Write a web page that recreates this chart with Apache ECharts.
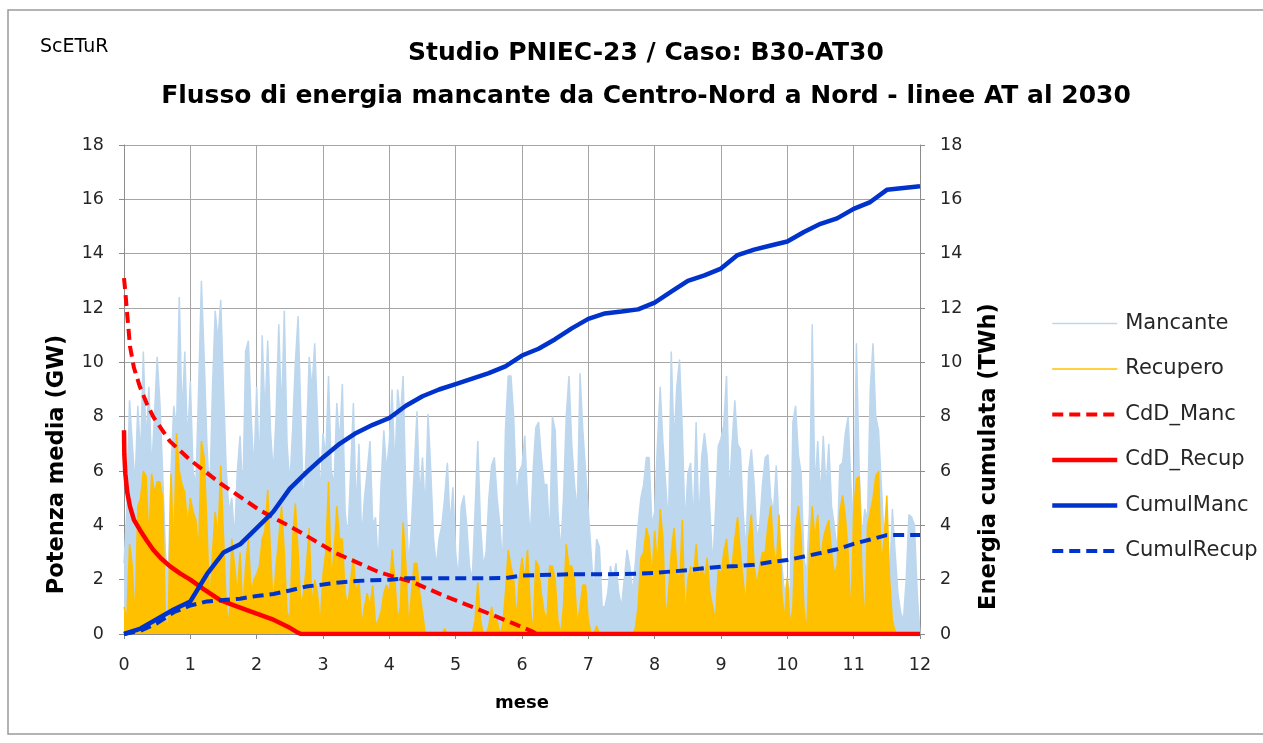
<!DOCTYPE html>
<html>
<head>
<meta charset="utf-8">
<script src="https://cdn.jsdelivr.net/npm/echarts@6/dist/echarts.min.js"></script>
<style>
  html, body { margin: 0; padding: 0; background: #ffffff; }
  #chart { width: 1263px; height: 743px; }
</style>
</head>
<body>
<div id="chart"></div>
<script>
// Monthly axis: 0..12 months, sampled values every 1/24 of a month
const stepsPerMonth = 24;

// Mean power of the missing flow (GW)
const mancante = [
  2.6,4.5,8.6,7.0,5.5,8.4,6.5,10.4,7.0,9.1,6.0,8.0,10.2,8.5,5.9,3.0,2.0,6.0,8.4,7.5,12.4,8.0,10.4,7.0,9.3,6.0,5.5,9.0,13.0,10.2,7.0,5.0,9.0,11.9,10.8,12.3,9.0,6.0,4.5,5.0,3.5,6.0,7.3,5.0,10.4,10.8,8.0,6.0,
  9.1,6.0,11.0,8.0,10.8,7.5,5.9,8.0,11.4,8.0,11.9,7.0,5.5,7.5,10.0,11.7,8.0,4.5,7.0,10.2,9.0,10.7,8.0,5.0,7.4,6.5,9.5,6.0,5.5,8.5,7.0,9.2,4.5,3.5,6.0,8.5,4.5,7.0,3.5,5.0,6.0,7.1,4.0,4.3,2.5,5.5,7.5,6.0,
  7.1,9.0,6.0,9.0,8.0,9.5,5.0,2.5,4.0,6.0,8.2,5.0,6.5,4.5,8.1,6.0,3.5,2.5,3.5,4.0,5.0,6.3,4.0,5.4,3.0,2.0,4.7,5.1,4.0,2.5,2.0,4.5,7.1,4.0,2.5,3.0,5.0,6.2,6.5,5.0,4.0,2.5,7.5,9.5,9.5,8.0,5.0,6.0,
  6.2,7.3,5.0,3.5,6.0,7.6,7.8,6.5,5.5,5.5,3.5,8.0,7.5,4.5,3.0,5.0,8.0,9.5,7.0,5.5,4.5,9.6,7.5,6.0,4.5,3.0,1.5,3.5,3.2,1.0,1.0,1.5,2.5,2.0,2.6,1.5,1.0,2.0,3.1,2.5,1.5,2.6,4.0,5.0,5.5,6.5,6.5,4.0,
  4.5,7.0,9.1,7.0,5.5,4.0,10.4,7.0,9.1,10.1,7.5,4.0,5.9,6.3,4.0,7.8,4.0,6.5,7.4,6.5,4.5,2.5,4.5,6.9,7.2,7.7,9.5,5.0,7.0,8.6,7.0,6.8,4.5,3.0,6.0,6.8,5.5,3.5,4.0,5.5,6.5,6.6,5.0,4.5,6.2,4.0,2.5,1.5,
  2.0,1.3,7.8,8.4,6.6,5.9,2.8,2.2,4.5,11.4,5.3,7.1,5.0,7.3,5.3,7.0,4.7,4.0,3.0,6.2,6.3,7.4,8.0,5.5,4.0,10.7,6.0,3.5,4.6,4.2,9.0,10.7,8.0,7.5,5.5,3.5,2.5,2.0,4.6,3.0,1.5,0.8,0.5,2.0,4.4,4.3,4.0,1.5,0
];

// Mean power of the recovered flow (GW)
const recupero = [
  1.0,0.5,3.3,2.5,0.5,4.7,5.0,6.0,5.8,3.5,5.9,5.2,5.6,5.6,5.0,0.5,0.3,5.9,3.0,7.4,6.0,5.5,5.2,4.0,5.0,4.5,4.2,3.0,7.1,6.5,4.0,1.0,3.0,4.5,3.5,6.2,3.6,1.0,0.3,3.5,2.5,1.5,3.0,0.8,2.5,3.5,1.5,2.0,
  2.2,2.5,3.5,3.8,5.3,3.0,1.0,2.5,3.5,4.7,3.0,0.8,0.5,3.5,4.8,3.0,1.0,1.5,2.5,3.9,1.0,2.0,1.5,0.3,2.2,3.0,5.6,2.0,3.0,4.7,3.5,3.5,1.5,1.0,2.0,2.8,1.5,2.0,0.3,1.0,1.5,1.0,1.8,0.3,0.5,0.8,1.5,1.8,
  1.5,3.1,2.0,0.5,1.0,4.1,2.5,0.2,1.5,2.6,2.6,1.5,0.8,0,0,0,0,0,0,0,0.2,0,0,0,0,0,0,0,0,0,0,0.5,1.9,0.5,0,0,0.3,1.0,0.5,0.5,0,0.3,1.5,3.1,2.5,2.0,0.5,2.0,
  2.8,2.0,3.1,1.0,0,2.7,2.5,1.5,0.8,0.5,2.5,2.5,2.0,0.5,0,1.0,3.3,2.5,2.5,2.0,0.3,1.0,1.8,1.8,0.5,0,0,0.3,0,0,0,0,0,0,0,0,0,0,0,0,0,0.2,1.0,2.8,3.0,3.9,3.5,2.0,
  3.8,2.5,4.6,3.5,0.5,1.5,3.0,3.9,2.5,1.8,4.2,0.5,2.0,2.5,2.0,3.3,2.0,2.5,2.0,2.8,1.5,1.0,0.5,2.4,2.2,3.0,3.5,2.2,2.5,3.5,4.3,3.0,2.0,1.0,3.5,4.4,2.5,1.8,2.5,3.0,3.0,4.0,4.7,3.2,2.5,4.4,1.5,0.5,
  2.1,0.3,1.0,3.9,4.7,3.5,1.0,0,3.0,4.7,3.5,4.4,2.5,3.5,3.9,4.2,3.0,2.2,2.5,4.5,5.1,4.3,3.0,0.5,4.5,5.7,5.8,2.2,0.3,4.0,4.5,5.0,5.8,6.0,2.5,3.5,5.1,2.0,0.5,0.1,0,0,0,0,0,0,0,0,0
];

// Cumulated energy (TWh), every quarter of a month
const cumulStep = 0.25;
const cumulManc = [
  0,0.2,0.55,0.9,1.2,2.2,3.0,3.3,3.9,4.5,5.35,5.95,6.5,7.0,7.4,7.7,7.95,8.4,8.75,9.0,9.2,9.4,9.6,9.85,10.25,
  10.5,10.85,11.25,11.6,11.8,11.87,11.95,12.2,12.6,13.0,13.2,13.45,13.95,14.15,14.3,14.45,14.8,15.1,15.3,15.65,15.9,16.35,16.42,16.48
];
const cumulRecup = [
  0,0.12,0.4,0.8,1.05,1.2,1.25,1.3,1.4,1.47,1.6,1.75,1.82,1.9,1.95,1.98,2.0,2.05,2.05,2.05,2.05,2.05,2.05,2.06,2.15,
  2.17,2.18,2.2,2.2,2.2,2.21,2.22,2.25,2.3,2.35,2.42,2.48,2.5,2.55,2.65,2.72,2.85,2.98,3.12,3.32,3.48,3.64,3.64,3.64
];

// Duration curves (GW) over the month axis
const cddMancX = [0,0.02,0.04,0.09,0.15,0.24,0.34,0.44,0.69,1.0,1.45,2.05,2.6,3.2,3.85,4.36,4.86,5.37,5.87,6.17,6.22,12];
const cddMancY = [13.1,12.6,12.0,10.6,9.8,9.1,8.5,8.0,7.1,6.4,5.55,4.55,3.83,2.97,2.27,1.9,1.37,0.88,0.39,0.08,0,0];
const cddRecupX = [0,0.005,0.02,0.05,0.09,0.15,0.24,0.34,0.44,0.56,0.69,0.85,1.0,1.2,1.45,1.7,2.0,2.23,2.47,2.62,2.67,12];
const cddRecupY = [7.5,6.6,5.9,5.2,4.7,4.2,3.83,3.45,3.1,2.78,2.5,2.22,2.0,1.65,1.25,1.02,0.75,0.55,0.27,0.05,0,0];

const FONT = 'DejaVu Sans';
const LIGHT_BLUE = '#bdd7ee';
const ORANGE = '#ffc000';
const RED = '#ff0000';
const BLUE = '#0033cc';
const GRID_GRAY = '#a6a6a6';
const AXIS_GRAY = '#8c8c8c';

const onSteps = (ys, step) => ys.map((v, i) => [i * step, v]);
const zipXY = (xs, ys) => ys.map((v, i) => [xs[i], v]);

const chart = echarts.init(document.getElementById('chart'), null, { renderer: 'canvas' });

const valueAxisBase = {
  type: 'value', min: 0, max: 18, interval: 2,
  axisLine: { show: true, lineStyle: { color: AXIS_GRAY, width: 1 } },
  axisTick: { show: true, length: 5, lineStyle: { color: AXIS_GRAY } },
  axisLabel: { fontFamily: FONT, fontSize: 17.5, color: '#262626', margin: 20 },
  nameLocation: 'middle', nameRotate: 90
};

chart.setOption({
  animation: false,
  backgroundColor: '#ffffff',
  title: [
    {
      text: 'Studio PNIEC-23 / Caso: B30-AT30\nFlusso di energia mancante da Centro-Nord a Nord - linee AT al 2030',
      left: 641, top: 27, textAlign: 'center',
      textStyle: { fontFamily: FONT, fontSize: 25, fontWeight: 'bold', color: '#000', lineHeight: 43 }
    },
    {
      text: 'ScETuR', left: 35, top: 33,
      textStyle: { fontFamily: FONT, fontSize: 19, fontWeight: 'normal', color: '#000' }
    }
  ],
  graphic: [{
    type: 'rect', silent: true, z: -10,
    shape: { x: 8, y: 10, width: 1275, height: 724 },
    style: { fill: 'none', stroke: '#9a9a9a', lineWidth: 1.5 }
  }],
  grid: { left: 124, right: 343, top: 145, bottom: 109, containLabel: false, outerBoundsMode: 'none' },
  legend: {
    orient: 'vertical', left: 1050, top: 313, padding: 0,
    itemWidth: 65, itemHeight: 14, itemGap: 24.5,
    itemStyle: { opacity: 0 },
    lineStyle: { width: 'inherit', type: 'inherit', color: 'inherit' },
    textStyle: { fontFamily: FONT, fontSize: 21, color: '#262626', padding: [0, 0, 0, 3] },
    data: ['Mancante', 'Recupero', 'CdD_Manc', 'CdD_Recup', 'CumulManc', 'CumulRecup']
  },
  xAxis: {
    type: 'value', min: 0, max: 12, interval: 1,
    axisLine: { show: true, onZero: false, lineStyle: { color: AXIS_GRAY, width: 1 } },
    axisTick: { show: true, length: 5, lineStyle: { color: AXIS_GRAY } },
    axisLabel: { fontFamily: FONT, fontSize: 17.5, color: '#262626', margin: 22 },
    splitLine: { show: true, lineStyle: { color: GRID_GRAY, width: 1 } },
    name: 'mese', nameLocation: 'middle', nameGap: 60,
    nameTextStyle: { fontFamily: FONT, fontSize: 18, fontWeight: 'bold', color: '#000' }
  },
  yAxis: [
    Object.assign({}, valueAxisBase, {
      position: 'left', name: 'Potenza media (GW)', nameGap: 55,
      nameTextStyle: { fontFamily: FONT, fontSize: 22.5, fontWeight: 'bold', color: '#000', padding: [0, 150, 0, 0] },
      splitLine: { show: true, lineStyle: { color: GRID_GRAY, width: 1 } }
    }),
    Object.assign({}, valueAxisBase, {
      position: 'right', name: 'Energia cumulata (TWh)', nameGap: 58,
      nameTextStyle: { fontFamily: FONT, fontSize: 22.5, fontWeight: 'bold', color: '#000', padding: [0, 134, 0, 0] },
      splitLine: { show: false }
    })
  ],
  series: [
    {
      name: 'Mancante', type: 'line', symbol: 'none', z: 1,
      data: onSteps(mancante, 1 / stepsPerMonth),
      itemStyle: { color: LIGHT_BLUE },
      lineStyle: { color: LIGHT_BLUE, width: 1.5 },
      areaStyle: { color: LIGHT_BLUE, opacity: 1 }
    },
    {
      name: 'Recupero', type: 'line', symbol: 'none', z: 2,
      data: onSteps(recupero, 1 / stepsPerMonth),
      itemStyle: { color: ORANGE },
      lineStyle: { color: ORANGE, width: 1.5 },
      areaStyle: { color: ORANGE, opacity: 1 }
    },
    {
      name: 'CdD_Manc', type: 'line', symbol: 'none', z: 3,
      data: zipXY(cddMancX, cddMancY),
      itemStyle: { color: RED },
      lineStyle: { color: RED, width: 4, type: [11, 6] }
    },
    {
      name: 'CdD_Recup', type: 'line', symbol: 'none', z: 4,
      data: zipXY(cddRecupX, cddRecupY),
      itemStyle: { color: RED },
      lineStyle: { color: RED, width: 4.5 }
    },
    {
      name: 'CumulManc', type: 'line', symbol: 'none', yAxisIndex: 1, z: 5,
      data: onSteps(cumulManc, cumulStep),
      itemStyle: { color: BLUE },
      lineStyle: { color: BLUE, width: 4.5 }
    },
    {
      name: 'CumulRecup', type: 'line', symbol: 'none', yAxisIndex: 1, z: 6,
      data: onSteps(cumulRecup, cumulStep),
      itemStyle: { color: BLUE },
      lineStyle: { color: BLUE, width: 4, type: [11, 6] }
    }
  ]
});
</script>
</body>
</html>
